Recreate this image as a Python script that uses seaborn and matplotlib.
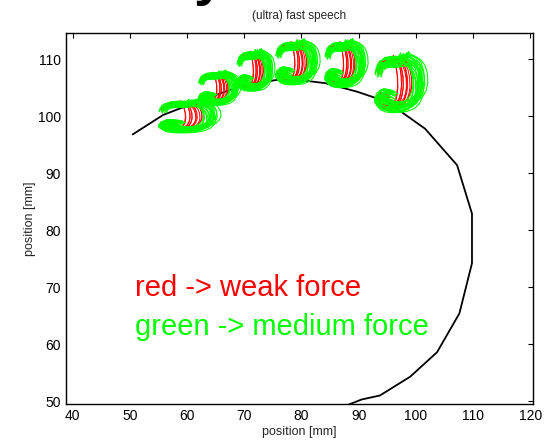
import numpy as np
import pandas as pd
import matplotlib
matplotlib.use("Agg")
import matplotlib.pyplot as plt
import seaborn as sns

# ---- data -------------------------------------------------------------
# black reference contour
ARC_X = [50.5, 55.8, 61.7, 67.5, 72.0, 76.0, 80.0, 84.1, 89.7, 95.0,
         101.6, 107.2, 109.8, 109.8, 107.6, 103.7, 99.0, 93.7, 90.5, 88.0]
ARC_Y = [96.8, 100.2, 102.5, 104.6, 105.8, 106.4, 106.3, 105.8, 104.3, 102.5,
         97.8, 91.4, 82.9, 74.2, 65.4, 58.6, 54.3, 51.0, 50.3, 49.3]

# one movement loop, normalised inside its cluster box
LOOP_U = [0.04, 0.07, 0.14, 0.28, 0.44, 0.58, 0.64, 0.68, 0.73, 0.82, 0.90, 0.95, 0.96,
          0.93, 0.87, 0.76, 0.60, 0.42, 0.24, 0.10, 0.03, 0.04, 0.12, 0.26, 0.36]
LOOP_V = [0.70, 0.79, 0.85, 0.87, 0.87, 0.89, 0.93, 0.90, 0.89, 0.85, 0.76, 0.62, 0.46,
          0.34, 0.24, 0.16, 0.11, 0.10, 0.11, 0.15, 0.22, 0.29, 0.32, 0.30, 0.27]
SPIKE_IDX = 6

# cluster boxes (six syllables)
CL_X0 = [55.5, 62.3, 69.0, 75.8, 84.4, 93.2]
CL_X1 = [65.0, 68.8, 74.8, 82.6, 91.0, 101.3]
CL_Y0 = [97.0, 101.8, 104.3, 105.4, 104.9, 100.5]
CL_Y1 = [102.8, 107.8, 111.5, 113.2, 113.2, 110.8]

# per-trial width factor, shifts and top-spike height
RED_K = [0.44, 0.48, 0.52, 0.55, 0.58, 0.61, 0.64, 0.67, 0.70, 0.73, 0.76, 0.80]
RED_DX = [0.02, -0.01, 0.03, 0.00, 0.01, -0.02, 0.02, 0.00, -0.01, 0.01, 0.02, -0.02]
RED_DY = [0.01, -0.02, 0.00, 0.02, -0.01, 0.01, -0.03, 0.02, 0.00, -0.01, 0.01, 0.03]
RED_SPIKE = [0.00, 0.02, 0.00, 0.04, 0.00, 0.01, 0.06, 0.00, 0.02, 0.00, 0.03, 0.00]
GREEN_K = [0.84, 0.87, 0.90, 0.92, 0.94, 0.96, 0.98, 1.00, 1.01, 1.03, 1.05, 1.07,
           0.89, 0.95, 0.99, 1.02, 0.93, 0.97, 1.04, 0.91]
GREEN_DX = [0.03, -0.05, 0.06, -0.02, 0.00, 0.05, -0.06, 0.02, -0.01, 0.04, -0.03, 0.07,
            -0.07, 0.01, 0.05, -0.03, 0.08, -0.04, 0.02, -0.08]
GREEN_DY = [-0.07, 0.05, 0.02, -0.09, 0.07, -0.03, 0.01, 0.09, -0.05, 0.03, -0.01, 0.06,
            -0.04, 0.08, -0.08, 0.00, 0.04, -0.06, 0.10, -0.02]
GREEN_SPIKE = [0.00, 0.05, 0.00, 0.12, 0.00, 0.02, 0.08, 0.00, 0.15, 0.00, 0.04, 0.00,
               0.10, 0.00, 0.03, 0.00, 0.07, 0.00, 0.02, 0.00]

TITLE = "(ultra) fast speech"
XLABEL = "position [mm]"
YLABEL = "position [mm]"
XTICKS = [40, 50, 60, 70, 80, 90, 100, 110, 120]
YTICKS = [50, 60, 70, 80, 90, 100, 110]

# ---- build tables -----------------------------------------------------
def trials(ks, dxs, dys, spikes, tag):
    rows = []
    for c in range(len(CL_X0)):
        w = CL_X1[c] - CL_X0[c]
        h = CL_Y1[c] - CL_Y0[c]
        for t, (k, dx, dy, sp) in enumerate(zip(ks, dxs, dys, spikes)):
            for i, (u, v) in enumerate(zip(LOOP_U, LOOP_V)):
                vv = v + (sp if i == SPIKE_IDX else 0.0)
                rows.append({"x": CL_X0[c] + w * (u * k + dx),
                             "y": CL_Y0[c] + h * (vv + dy),
                             "trial": f"{tag}{c}_{t}"})
    return pd.DataFrame(rows)

red_df = trials(RED_K, RED_DX, RED_DY, RED_SPIKE, "r")
green_df = trials(GREEN_K, GREEN_DX, GREEN_DY, GREEN_SPIKE, "g")
arc_df = pd.DataFrame({"x": ARC_X, "y": ARC_Y})

# ---- plot -------------------------------------------------------------
sns.set_style("white")
plt.rcParams["font.family"] = ["Liberation Sans", "DejaVu Sans"]

fig = plt.figure(figsize=(5.48, 4.45), dpi=100)
ax = fig.add_axes([0.120, 0.092, 0.853, 0.834])

sns.lineplot(data=arc_df, x="x", y="y", sort=False, estimator=None,
             color="black", linewidth=1.3, ax=ax)
sns.lineplot(data=red_df, x="x", y="y", units="trial", sort=False, estimator=None,
             color="#ff0000", linewidth=0.7, ax=ax)
sns.lineplot(data=green_df, x="x", y="y", units="trial", sort=False, estimator=None,
             color="#00ff00", linewidth=0.8, ax=ax)

ax.set_xlim(38.8, 120.5)
ax.set_ylim(49.5, 114.6)
ax.set_xticks(XTICKS)
ax.set_yticks(YTICKS)
ax.tick_params(direction="in", length=3.5, width=0.8, top=True, right=True,
               labelsize=10, colors="black")
for s in ax.spines.values():
    s.set_visible(True)
    s.set_color("black")
    s.set_linewidth(1.0)

ax.set_title(TITLE, fontsize=8.5, pad=10)
ax.set_xlabel(XLABEL, fontsize=9, labelpad=2)
ax.set_ylabel(YLABEL, fontsize=9, labelpad=1)

ax.text(50.9, 68.4, "red -> weak force", color="#ff0000", fontsize=21)
ax.text(50.9, 61.7, "green -> medium force", color="#00ff00", fontsize=21)

fig.text(0.382, 1.014, "y", fontsize=40, fontweight="bold", ha="center",
         va="baseline", color="black")

fig.savefig("out.png", dpi=100, facecolor="white")
